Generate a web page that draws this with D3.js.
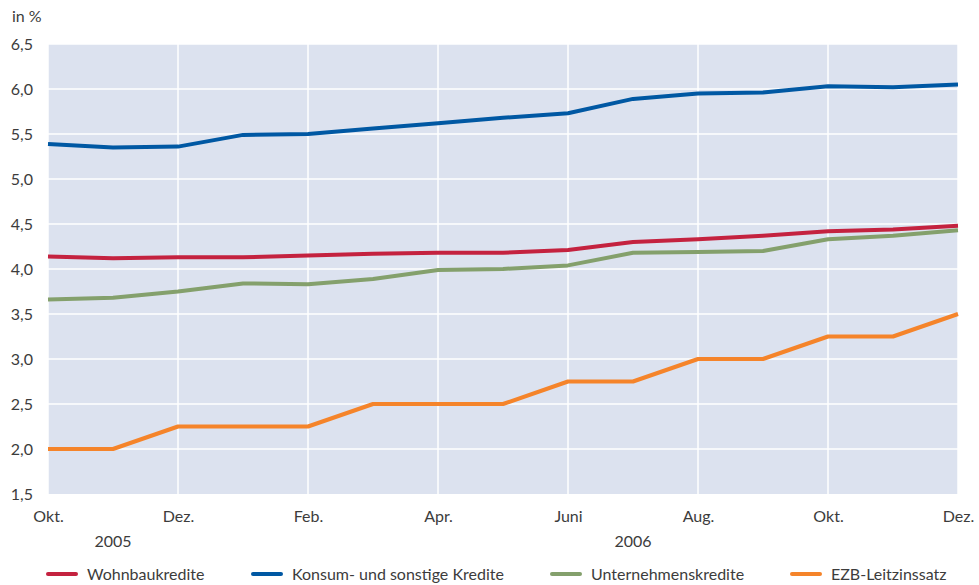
<!DOCTYPE html>
<html>
<head>
<meta charset="utf-8">
<script src="https://cdn.jsdelivr.net/npm/d3@7"></script>
<style>
html,body{margin:0;padding:0;background:#fff;}
svg text{font-family:Lato,"Noto Sans",sans-serif;fill:#3c3c3c;}
</style>
</head>
<body>
<svg id="chart" width="979" height="585"></svg>
<script>
const months = ["Okt.","Nov.","Dez.","Jan.","Feb.","März","Apr.","Mai","Juni","Juli","Aug.","Sep.","Okt.","Nov.","Dez."];
const tickMonths = ["Okt.","Dez.","Feb.","Apr.","Juni","Aug.","Okt.","Dez."];
const years = [{label:"2005", idx:1},{label:"2006", idx:9}];
const yTicks = [1.5,2.0,2.5,3.0,3.5,4.0,4.5,5.0,5.5,6.0,6.5];

const wohnbau = [4.14,4.12,4.13,4.13,4.15,4.17,4.18,4.18,4.21,4.30,4.33,4.37,4.42,4.44,4.48];
const konsum  = [5.39,5.35,5.36,5.49,5.50,5.56,5.62,5.68,5.73,5.89,5.95,5.96,6.03,6.02,6.05];
const untern  = [3.66,3.68,3.75,3.84,3.83,3.89,3.99,4.00,4.04,4.18,4.19,4.20,4.33,4.37,4.43];
const ezb     = [2.00,2.00,2.25,2.25,2.25,2.50,2.50,2.50,2.75,2.75,3.00,3.00,3.25,3.25,3.50];

const seriesNames = ["Wohnbaukredite","Konsum- und sonstige Kredite","Unternehmenskredite","EZB-Leitzinssatz"];
const seriesData = [wohnbau, konsum, untern, ezb];
const colors = ["#c4223f","#0058a3","#84a06c","#f5842a"];

const svg = d3.select("#chart");
const m = {left:48, right:958, top:44, bottom:494};

const x = d3.scaleLinear().domain([0, months.length-1]).range([m.left, m.right]);
const y = d3.scaleLinear().domain([1.5, 6.5]).range([m.bottom, m.top]);

svg.append("rect").attr("x", m.left).attr("y", m.top)
  .attr("width", m.right-m.left).attr("height", m.bottom-m.top)
  .attr("fill", "#dce2ef");

// horizontal grid
svg.append("g").selectAll("line").data(yTicks.slice(1)).join("line")
  .attr("x1", m.left).attr("x2", m.right)
  .attr("y1", d=>y(d)).attr("y2", d=>y(d))
  .attr("stroke", "#fff").attr("stroke-width", 1.5);

// vertical grid every other month
const gridIdx = d3.range(0, months.length, 2);
svg.append("g").selectAll("line").data(gridIdx).join("line")
  .attr("x1", d=>x(d)).attr("x2", d=>x(d))
  .attr("y1", m.top).attr("y2", m.bottom)
  .attr("stroke", "#fff").attr("stroke-width", 1.5);

// y axis labels
const yAxis = d3.axisLeft(y).tickValues(yTicks).tickSize(0).tickPadding(15)
  .tickFormat(d => d3.format(".1f")(d).replace(".", ","));
const gy = svg.append("g").attr("transform", `translate(${m.left},0)`).call(yAxis);
gy.select(".domain").remove();
gy.selectAll("text").style("font-size","16px").attr("fill","#3c3c3c");

// x axis labels
const xAxis = d3.axisBottom(x).tickValues(gridIdx).tickSize(0).tickPadding(17)
  .tickFormat((d,i) => tickMonths[i]);
const gx = svg.append("g").attr("transform", `translate(0,${m.bottom})`).call(xAxis);
gx.select(".domain").remove();
gx.selectAll("text").style("font-size","16px").attr("fill","#3c3c3c");

svg.append("g").selectAll("text").data(years).join("text")
  .attr("x", d=>x(d.idx)).attr("y", 547)
  .attr("text-anchor","middle").style("font-size","16px")
  .text(d=>d.label);

svg.append("text").attr("x", 12).attr("y", 22).style("font-size","16px").text("in %");

// lines
const line = d3.line().x((d,i)=>x(i)).y(d=>y(d));
svg.append("g").selectAll("path").data(seriesData).join("path")
  .attr("d", d=>line(d)).attr("fill","none")
  .attr("stroke", (d,i)=>colors[i]).attr("stroke-width", 4)
  .attr("stroke-linejoin","round");

// legend
const legendX = [48, 253, 552, 792];
const lg = svg.append("g").selectAll("g").data(seriesNames).join("g")
  .attr("transform", (d,i)=>`translate(${legendX[i]},574)`);
lg.append("line").attr("x1",0).attr("x2",28).attr("y1",0).attr("y2",0)
  .attr("stroke",(d,i)=>colors[i]).attr("stroke-width",4).attr("stroke-linecap","round");
lg.append("text").attr("x",39).attr("y",6).style("font-size","16px").text(d=>d);
</script>
</body>
</html>
